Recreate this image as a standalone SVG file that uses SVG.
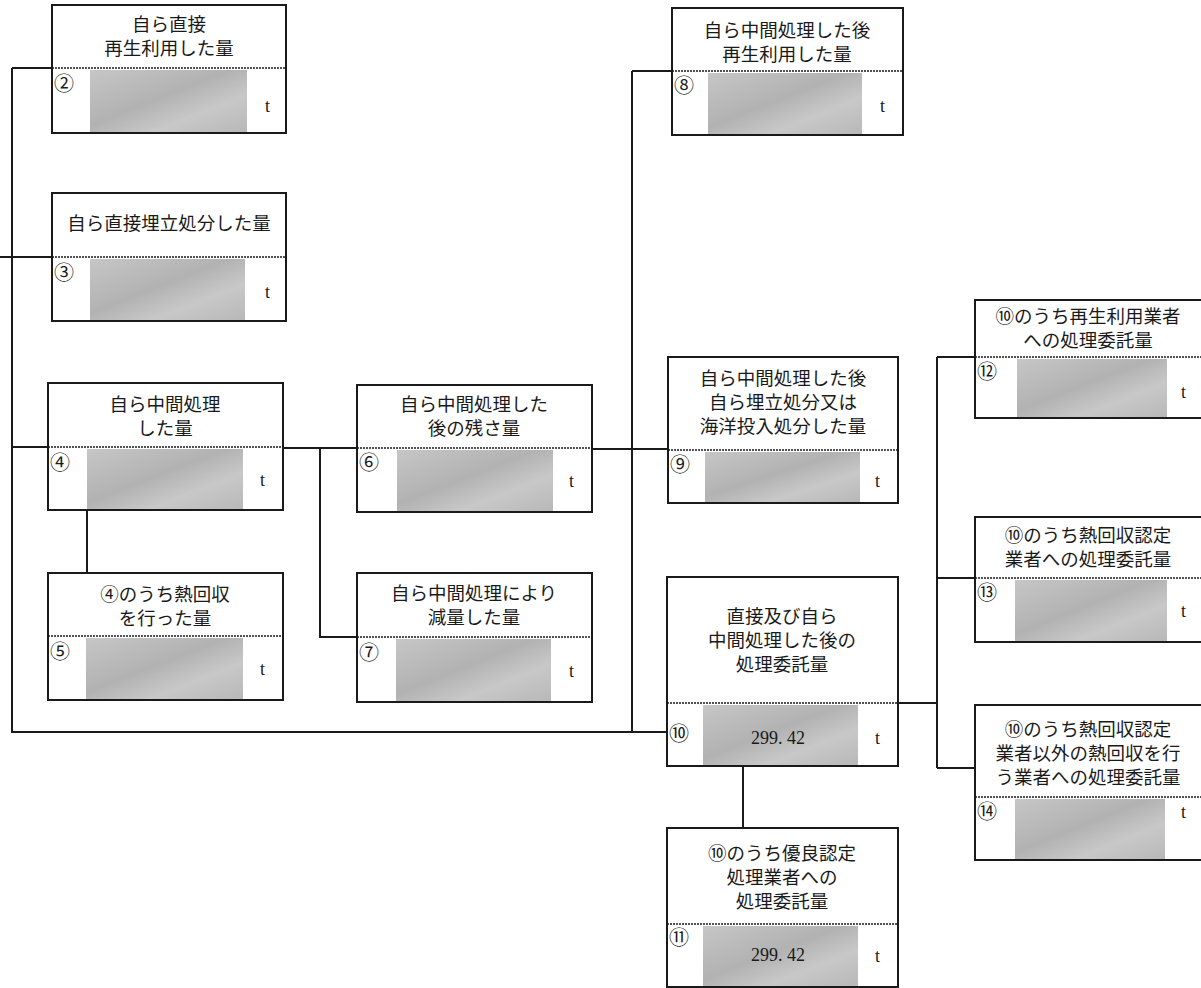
<svg xmlns="http://www.w3.org/2000/svg" width="1201" height="988" viewBox="0 0 1201 988">
<defs>
<linearGradient id="g" x1="0" y1="0" x2="1" y2="1">
<stop offset="0" stop-color="#c6c6c6"/>
<stop offset="0.45" stop-color="#b2b2b2"/>
<stop offset="0.7" stop-color="#c8c8c8"/>
<stop offset="1" stop-color="#b8b8b8"/>
</linearGradient>
<style>
.box{fill:#fff;stroke:#1a1a1a;stroke-width:2}
.div{stroke:#1a1a1a;stroke-width:1.5;stroke-dasharray:2 1;fill:none}
.fill{fill:url(#g)}
.lbl{font-family:"Noto Sans CJK JP","Noto Sans CJK SC",sans-serif;font-size:18.5px;fill:#1a1a1a;text-anchor:middle}
.num{font-family:"Noto Sans CJK JP","DejaVu Sans",sans-serif;font-size:20px;fill:#1a1a1a}
.t{font-family:"Liberation Serif",serif;font-size:18px;fill:#1a1a1a}
.val{font-family:"Liberation Serif",serif;font-size:18px;fill:#1a1a1a;text-anchor:middle}
.con{stroke:#1a1a1a;stroke-width:2;fill:none}
</style>
</defs>
<rect width="1201" height="988" fill="#fff"/>
<g id="connectors">
<path class="con" d="M12 68V732H667M12 68H52M0 257H52M12 447H48"/>
<path class="con" d="M87 510V573"/>
<path class="con" d="M283 448H357M320 448V637H357"/>
<path class="con" d="M592 449H668M632 71V732M632 71H672"/>
<path class="con" d="M743 766V828"/>
<path class="con" d="M898 703H937M937 357V768M937 357H975M937 578H975M937 768H975"/>
</g>
<g id="n2">
<rect class="box" x="52" y="5" width="234" height="128"/>
<rect class="fill" x="90" y="70" width="157" height="62"/>
<line class="div" x1="52" y1="68" x2="286" y2="68"/>
<text class="lbl" x="169" y="31">自ら直接</text>
<text class="lbl" x="169" y="55">再生利用した量</text>
<text class="num" x="54" y="91">②</text>
<text class="t" x="265" y="112">t</text>
</g>
<g id="n3">
<rect class="box" x="52" y="193" width="234" height="128"/>
<rect class="fill" x="90" y="259" width="155" height="61"/>
<line class="div" x1="52" y1="257" x2="286" y2="257"/>
<text class="lbl" x="169" y="230">自ら直接埋立処分した量</text>
<text class="num" x="54" y="280">③</text>
<text class="t" x="265" y="298">t</text>
</g>
<g id="n4">
<rect class="box" x="48" y="383" width="235" height="127"/>
<rect class="fill" x="87" y="449" width="156" height="60"/>
<line class="div" x1="48" y1="447" x2="283" y2="447"/>
<text class="lbl" x="165" y="411">自ら中間処理</text>
<text class="lbl" x="165" y="435">した量</text>
<text class="num" x="50" y="470">④</text>
<text class="t" x="260" y="486">t</text>
</g>
<g id="n5">
<rect class="box" x="48" y="573" width="235" height="127"/>
<rect class="fill" x="86" y="638" width="157" height="61"/>
<line class="div" x1="48" y1="636" x2="283" y2="636"/>
<text class="lbl" x="165" y="601">④のうち熱回収</text>
<text class="lbl" x="165" y="625">を行った量</text>
<text class="num" x="50" y="659">⑤</text>
<text class="t" x="260" y="675">t</text>
</g>
<g id="n6">
<rect class="box" x="357" y="385" width="235" height="127"/>
<rect class="fill" x="397" y="450" width="156" height="61"/>
<line class="div" x1="357" y1="448" x2="592" y2="448"/>
<text class="lbl" x="474" y="411">自ら中間処理した</text>
<text class="lbl" x="474" y="435">後の残さ量</text>
<text class="num" x="359" y="470">⑥</text>
<text class="t" x="569" y="487">t</text>
</g>
<g id="n7">
<rect class="box" x="357" y="573" width="235" height="129"/>
<rect class="fill" x="396" y="639" width="155" height="62"/>
<line class="div" x1="357" y1="637" x2="592" y2="637"/>
<text class="lbl" x="474" y="600">自ら中間処理により</text>
<text class="lbl" x="474" y="624">減量した量</text>
<text class="num" x="359" y="660">⑦</text>
<text class="t" x="569" y="677">t</text>
</g>
<g id="n8">
<rect class="box" x="672" y="8" width="231" height="127"/>
<rect class="fill" x="708" y="73" width="154" height="61"/>
<line class="div" x1="672" y1="71" x2="903" y2="71"/>
<text class="lbl" x="787" y="37">自ら中間処理した後</text>
<text class="lbl" x="787" y="61">再生利用した量</text>
<text class="num" x="674" y="93">⑧</text>
<text class="t" x="880" y="112">t</text>
</g>
<g id="n9">
<rect class="box" x="668" y="357" width="230" height="146"/>
<rect class="fill" x="705" y="452" width="155" height="50"/>
<line class="div" x1="668" y1="450" x2="898" y2="450"/>
<text class="lbl" x="783" y="385">自ら中間処理した後</text>
<text class="lbl" x="783" y="409">自ら埋立処分又は</text>
<text class="lbl" x="783" y="433">海洋投入処分した量</text>
<text class="num" x="670" y="472">⑨</text>
<text class="t" x="875" y="487">t</text>
</g>
<g id="n10">
<rect class="box" x="667" y="577" width="231" height="189"/>
<rect class="fill" x="703" y="705" width="155" height="60"/>
<line class="div" x1="667" y1="703" x2="898" y2="703"/>
<text class="lbl" x="782" y="623">直接及び自ら</text>
<text class="lbl" x="782" y="647">中間処理した後の</text>
<text class="lbl" x="782" y="671">処理委託量</text>
<text class="num" x="669" y="741">⑩</text>
<text class="val" x="778" y="744">299. 42</text>
<text class="t" x="875" y="744">t</text>
</g>
<g id="n11">
<rect class="box" x="667" y="828" width="231" height="159"/>
<rect class="fill" x="703" y="926" width="155" height="60"/>
<line class="div" x1="667" y1="924" x2="898" y2="924"/>
<text class="lbl" x="782" y="860">⑩のうち優良認定</text>
<text class="lbl" x="782" y="884">処理業者への</text>
<text class="lbl" x="782" y="908">処理委託量</text>
<text class="num" x="669" y="945">⑪</text>
<text class="val" x="778" y="961">299. 42</text>
<text class="t" x="875" y="962">t</text>
</g>
<g id="n12">
<rect class="box" x="975" y="300" width="240" height="118"/>
<rect class="fill" x="1017" y="359" width="150" height="58"/>
<line class="div" x1="975" y1="357" x2="1201" y2="357"/>
<text class="lbl" x="1088" y="323">⑩のうち再生利用業者</text>
<text class="lbl" x="1088" y="347">への処理委託量</text>
<text class="num" x="977" y="379">⑫</text>
<text class="t" x="1181" y="398">t</text>
</g>
<g id="n13">
<rect class="box" x="975" y="517" width="240" height="125"/>
<rect class="fill" x="1015" y="580" width="152" height="61"/>
<line class="div" x1="975" y1="578" x2="1201" y2="578"/>
<text class="lbl" x="1088" y="542">⑩のうち熱回収認定</text>
<text class="lbl" x="1088" y="566">業者への処理委託量</text>
<text class="num" x="977" y="600">⑬</text>
<text class="t" x="1181" y="617">t</text>
</g>
<g id="n14">
<rect class="box" x="975" y="705" width="240" height="155"/>
<rect class="fill" x="1015" y="799" width="150" height="60"/>
<line class="div" x1="975" y1="797" x2="1201" y2="797"/>
<text class="lbl" x="1088" y="736">⑩のうち熱回収認定</text>
<text class="lbl" x="1088" y="760">業者以外の熱回収を行</text>
<text class="lbl" x="1088" y="784">う業者への処理委託量</text>
<text class="num" x="977" y="819">⑭</text>
<text class="t" x="1181" y="818">t</text>
</g>
</svg>
